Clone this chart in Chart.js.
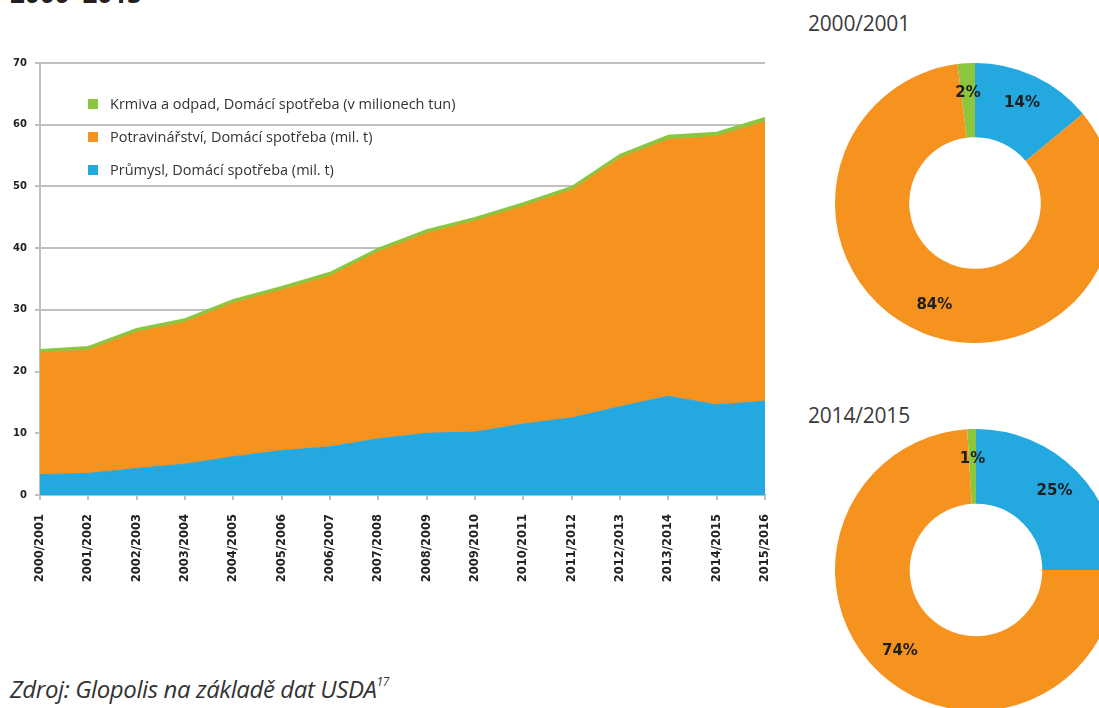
<!DOCTYPE html>
<html>
<head>
<meta charset="utf-8">
<script src="https://cdn.jsdelivr.net/npm/chart.js@4/dist/chart.umd.min.js"></script>
<style>
  html, body { margin:0; padding:0; background:#fff; }
  body { width:1099px; height:708px; overflow:hidden; position:relative; font-family:"Open Sans", sans-serif; }
  #title { position:absolute; left:10px; top:-25px; font:bold 26px "Open Sans", sans-serif; color:#231f20; white-space:nowrap; }
  #areaWrap { position:absolute; left:0; top:0; width:780px; height:615px; }
  #legend { position:absolute; left:88px; top:94px; font:14.5px "Open Sans", sans-serif; color:#333; }
  #legend .item { height:33px; display:flex; align-items:flex-start; white-space:nowrap; }
  #legend .sw { width:10px; height:10px; margin-right:12px; margin-top:5px; flex:none; }
  .dtitle { position:absolute; left:808px; font:21px "Open Sans", sans-serif; color:#3a3a3a; white-space:nowrap; letter-spacing:-0.2px; }
  .dwrap { position:absolute; }
  #source { position:absolute; left:10px; top:672px; font:italic 24px "Open Sans", sans-serif; color:#333; white-space:nowrap; letter-spacing:-0.4px; }
  #source sup { font-size:12px; vertical-align:12px; line-height:0; }
</style>
</head>
<body>
<div id="title">2000–2015</div>
<div id="areaWrap"><canvas id="area" width="780" height="615"></canvas></div>
<div id="legend"></div>
<div class="dtitle" style="top:9px;">2000/2001</div>
<div class="dwrap" style="left:835px; top:63px;"><canvas id="d1" width="280" height="280"></canvas></div>
<div class="dtitle" style="top:401px;">2014/2015</div>
<div class="dwrap" style="left:835px; top:429px;"><canvas id="d2" width="282" height="282"></canvas></div>
<div id="source">Zdroj: Glopolis na základě dat USDA<sup>17</sup></div>
<script>
// ---- data ----
const categories = ['2000/2001','2001/2002','2002/2003','2003/2004','2004/2005','2005/2006','2006/2007','2007/2008','2008/2009','2009/2010','2010/2011','2011/2012','2012/2013','2013/2014','2014/2015','2015/2016'];
const prumysl = [3.3,3.5,4.3,5.0,6.2,7.2,7.8,9.1,10.0,10.2,11.5,12.5,14.3,16.0,14.6,15.2];
const potravinarstvi = [19.7,20.0,22.1,23.0,24.9,26.0,27.7,30.3,32.4,34.2,35.3,36.9,40.3,41.6,43.5,45.3];
const krmiva = [0.5,0.5,0.5,0.5,0.5,0.5,0.5,0.5,0.5,0.5,0.5,0.5,0.5,0.6,0.6,0.6];
const seriesLabels = ['Průmysl, Domácí spotřeba (mil. t)','Potravinářství, Domácí spotřeba (mil. t)','Krmiva a odpad, Domácí spotřeba (v milionech tun)'];
const yTicks = [0,10,20,30,40,50,60,70];
const donutLabels = ['Průmysl','Potravinářství','Krmiva a odpad'];
const donut2000 = [14,84,2];
const donut2014 = [25,74,1];

const BLUE = '#24a8e0', ORANGE = '#f6921e', GREEN = '#8cc63f';
const GRID = '#bfbfbf';

const area = new Chart(document.getElementById('area'), {
  type: 'line',
  data: {
    labels: categories,
    datasets: [
      { label: seriesLabels[0], data: prumysl, backgroundColor: BLUE, borderColor: BLUE, borderWidth: 1, fill: 'origin', pointRadius: 0, tension: 0 },
      { label: seriesLabels[1], data: potravinarstvi, backgroundColor: ORANGE, borderColor: ORANGE, borderWidth: 1, fill: '-1', pointRadius: 0, tension: 0 },
      { label: seriesLabels[2], data: krmiva, backgroundColor: GREEN, borderColor: GREEN, borderWidth: 2, fill: '-1', pointRadius: 0, tension: 0 }
    ]
  },
  options: {
    responsive: false,
    animation: false,
    layout: { padding: { top: 63, right: 15, left: 0, bottom: 0 } },
    plugins: { legend: { display: false }, tooltip: { enabled: false } },
    scales: {
      x: {
        offset: false,
        grid: { display: true, drawOnChartArea: false, drawTicks: true, tickLength: 5, color: GRID, lineWidth: 2 },
        border: { display: true, color: GRID, width: 2 },
        ticks: { maxRotation: 90, minRotation: 90, autoSkip: false, padding: 14, color: '#222', font: { family: 'DejaVu Sans', weight: 'bold', size: 11.5 } },
        afterFit: s => { s.height = 120; s.paddingLeft = 0; s.paddingRight = 0; }
      },
      y: {
        stacked: true,
        min: 0, max: 70,
        afterBuildTicks: s => { s.ticks = yTicks.map(v => ({ value: v })); },
        grid: { color: GRID, lineWidth: 2, tickLength: 5, drawTicks: true },
        border: { display: true, color: GRID, width: 2 },
        ticks: { padding: 8, color: '#222', font: { family: 'DejaVu Sans', weight: 'bold', size: 10 } },
        afterFit: s => { s.width = 40; }
      }
    }
  }
});

// HTML legend built from the chart's datasets (reverse order, as in the reference)
const legendEl = document.getElementById('legend');
area.data.datasets.slice().reverse().forEach(ds => {
  const item = document.createElement('div'); item.className = 'item';
  const sw = document.createElement('span'); sw.className = 'sw'; sw.style.background = ds.backgroundColor;
  const tx = document.createElement('span'); tx.textContent = ds.label;
  item.appendChild(sw); item.appendChild(tx); legendEl.appendChild(item);
});

const pctLabels = {
  id: 'pctLabels',
  afterDatasetsDraw(chart) {
    const ctx = chart.ctx;
    const meta = chart.getDatasetMeta(0);
    const data = chart.data.datasets[0].data;
    ctx.save();
    ctx.font = 'bold 15px "DejaVu Sans"';
    ctx.fillStyle = '#1e1e1e';
    ctx.textAlign = 'center';
    ctx.textBaseline = 'middle';
    meta.data.forEach((arc, i) => {
      const p = arc.getProps(['startAngle','endAngle','innerRadius','outerRadius','x','y'], true);
      const a = (p.startAngle + p.endAngle) / 2;
      const r = p.innerRadius + (p.outerRadius - p.innerRadius) * 0.6;
      ctx.fillText(data[i] + '%', p.x + Math.cos(a) * r, p.y + Math.sin(a) * r);
    });
    ctx.restore();
  }
};

function donut(id, values) {
  return new Chart(document.getElementById(id), {
    type: 'doughnut',
    data: { labels: donutLabels, datasets: [{ data: values, backgroundColor: [BLUE, ORANGE, GREEN], borderWidth: 0 }] },
    options: {
      responsive: false, animation: false, cutout: '47%',
      layout: { padding: 0 },
      plugins: { legend: { display: false }, tooltip: { enabled: false } }
    },
    plugins: [pctLabels]
  });
}
donut('d1', donut2000);
donut('d2', donut2014);
</script>
</body>
</html>
